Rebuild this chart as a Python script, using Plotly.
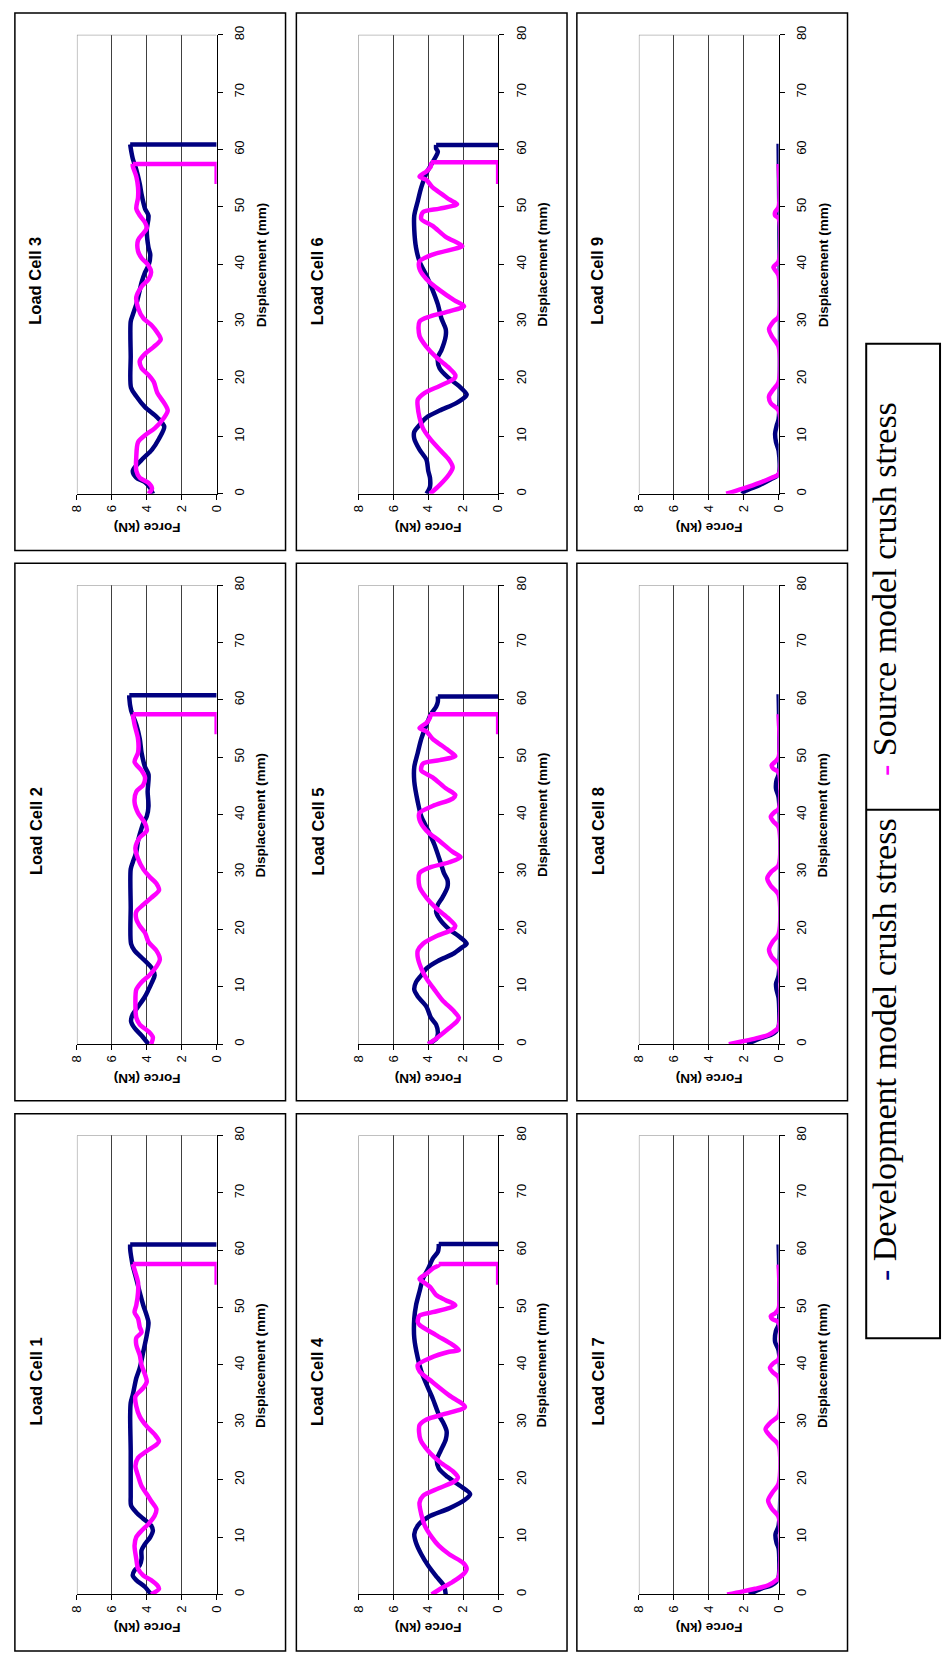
import plotly.graph_objects as go

W, H = 949, 1663

# ---------------- measured curves: displacement (mm) / force (kN) ----------------
LC1_DEV_MM = [0, 1.3, 2.5, 3.3, 4.2, 5.1, 6.2, 7.7, 8.8, 10, 11.1, 12, 13.2, 14.3, 15.5, 17.2, 25, 31, 33.4, 34.8, 37.7, 39.5, 42.3, 45.2, 47.4, 48.6, 50.4, 52.6, 55, 57.3, 59, 60.2, 61, 61]
LC1_DEV_KN = [3.75, 4.1, 4.6, 4.8, 4.7, 4.4, 4.3, 4.3, 4.1, 3.8, 3.65, 3.75, 4.2, 4.6, 4.9, 4.92, 4.92, 4.95, 4.92, 4.8, 4.6, 4.4, 4.2, 4.0, 3.9, 4.0, 4.2, 4.4, 4.6, 4.8, 4.9, 4.95, 4.95, 0]
LC1_SRC_MM = [0, 1, 1.6, 2.5, 3.3, 4.5, 6.2, 8.5, 10, 11.1, 12.3, 13.7, 14.9, 16.3, 17.5, 18.9, 20.7, 22.4, 23.8, 25, 26.1, 26.7, 27.9, 29.3, 31, 32.8, 34.5, 36, 37.1, 38.3, 40, 41.7, 43.5, 44.7, 45.7, 46.6, 48.1, 49.2, 50.4, 52.6, 54.4, 56.1, 57.6, 57.6, 54]
LC1_SRC_KN = [3.75, 3.3, 3.4, 3.75, 4.2, 4.5, 4.6, 4.7, 4.6, 4.3, 3.9, 3.55, 3.45, 3.75, 4.0, 4.3, 4.5, 4.65, 4.5, 4.0, 3.45, 3.3, 3.55, 4.0, 4.4, 4.6, 4.65, 4.2, 4.0, 4.1, 4.3, 4.4, 4.6, 4.6, 4.3, 4.4, 4.5, 4.7, 4.6, 4.5, 4.5, 4.65, 4.8, 0, 0]

LC2_DEV_MM = [0, 1.5, 2.8, 4, 5.2, 6.5, 8.3, 9.5, 10.8, 12, 13.2, 15.1, 16.3, 17.5, 24, 30.5, 31.7, 33.5, 35.4, 36.6, 38.5, 39.7, 41.5, 44, 47, 48.3, 50.8, 53.2, 55.7, 58.2, 60.3, 60.8, 60.8]
LC2_DEV_KN = [3.9, 4.3, 4.7, 4.9, 4.8, 4.5, 4.1, 3.9, 3.7, 3.55, 3.7, 4.3, 4.7, 4.9, 4.92, 4.92, 4.8, 4.6, 4.5, 4.4, 4.2, 4.0, 3.9, 3.95, 3.9, 4.1, 4.3, 4.4, 4.6, 4.9, 5.0, 5.0, 0]
LC2_SRC_MM = [0, 1.2, 2.2, 3.4, 4.6, 7.1, 9.5, 10.8, 12, 13.5, 14.8, 16.3, 17.8, 19.4, 20.6, 21.8, 23.1, 24.3, 25.5, 26.8, 28, 29.2, 30.5, 32.3, 34.2, 36, 37.2, 38.5, 40.3, 42.2, 44, 45.2, 46.5, 47.7, 49.2, 50.8, 53.2, 55.7, 57.5, 57.5, 54]
LC2_SRC_KN = [3.75, 3.65, 3.9, 4.4, 4.6, 4.65, 4.6, 4.3, 3.85, 3.45, 3.25, 3.45, 3.9, 4.1, 4.4, 4.6, 4.6, 4.2, 3.75, 3.3, 3.45, 3.85, 4.2, 4.5, 4.65, 4.4, 4.0, 4.1, 4.5, 4.7, 4.6, 4.2, 4.1, 4.3, 4.7, 4.5, 4.5, 4.7, 4.8, 0, 0]

LC3_DEV_MM = [0, 1, 2, 2.8, 4, 5.9, 7.7, 9.6, 11.7, 13.3, 15.1, 17, 18.5, 24, 30, 31.2, 33, 35.5, 36.8, 38.6, 39.8, 41.7, 42.9, 46, 48.5, 49.7, 52.2, 54, 56.5, 58.4, 59.9, 60.9, 60.9]
LC3_DEV_KN = [3.65, 3.8, 4.1, 4.6, 4.8, 4.3, 3.7, 3.3, 3.0, 3.4, 4.1, 4.6, 4.9, 4.92, 4.92, 4.8, 4.6, 4.4, 4.3, 4.1, 3.9, 3.8, 3.9, 4.0, 3.9, 4.1, 4.3, 4.4, 4.6, 4.8, 4.9, 4.95, 0]
LC3_SRC_MM = [0, 0.9, 1.9, 2.8, 4, 6.5, 9, 10.2, 11.4, 13.3, 14.5, 15.8, 17.6, 19.5, 20.7, 21.9, 23.2, 24.4, 25.6, 26.9, 28.1, 29.3, 30.6, 32.4, 34.3, 36.1, 37.4, 38.6, 39.8, 41.1, 42.3, 44.2, 45.4, 46.3, 47.3, 48.5, 49.7, 51.6, 53.4, 55.3, 57.1, 57.5, 57.5, 54]
LC3_SRC_KN = [3.9, 3.7, 3.9, 4.4, 4.6, 4.6, 4.5, 4.1, 3.55, 3.0, 2.8, 3.0, 3.4, 3.6, 3.9, 4.3, 4.4, 4.1, 3.6, 3.2, 3.4, 3.7, 4.2, 4.5, 4.6, 4.3, 3.9, 3.75, 3.9, 4.3, 4.5, 4.5, 4.2, 4.0, 4.1, 4.4, 4.6, 4.5, 4.5, 4.6, 4.8, 4.8, 0, 0]

LC4_DEV_MM = [0, 1.5, 3, 5, 7, 9, 10.5, 12, 13.5, 15, 16.5, 17.5, 19, 20.5, 22, 23.5, 25, 27, 28.5, 30, 31, 34.2, 36.6, 38.9, 41.2, 44.7, 48.1, 50.4, 52.8, 55.1, 56.8, 58.5, 59.7, 60.5, 61.1, 61.1]
LC4_DEV_KN = [3.0, 3.1, 3.5, 4.0, 4.4, 4.7, 4.8, 4.6, 4.0, 2.8, 1.9, 1.6, 2.2, 2.9, 3.4, 3.5, 3.3, 3.0, 2.95, 3.15, 3.35, 3.75, 4.1, 4.4, 4.6, 4.8, 4.8, 4.7, 4.5, 4.3, 4.0, 3.75, 3.45, 3.4, 3.4, 0]
LC4_SRC_MM = [0, 1, 2.2, 3.5, 4.5, 5.5, 7, 8.5, 10, 12, 14, 16, 17.2, 18.5, 19.7, 20.4, 21.5, 23, 25, 27, 29.5, 30.5, 31.5, 32.7, 34.7, 37, 38.9, 40, 41.2, 42.3, 42.6, 43.5, 45.2, 47, 47.5, 48.6, 49.2, 50.4, 51.3, 52.2, 53.6, 54.5, 55, 55.9, 56.8, 57.4, 57.6, 57.6, 54]
LC4_SRC_KN = [3.8, 3.3, 2.6, 2.0, 1.8, 2.0, 2.8, 3.4, 3.8, 4.2, 4.4, 4.5, 4.3, 3.4, 2.5, 2.3, 2.6, 3.3, 4.0, 4.45, 4.5, 4.1, 3.0, 1.9, 2.8, 3.75, 4.5, 4.6, 3.9, 2.8, 2.25, 2.6, 3.55, 4.5, 4.6, 4.5, 3.75, 2.45, 3.0, 3.55, 3.9, 4.3, 4.5, 4.1, 3.75, 3.4, 3.4, 0, 0]

LC5_DEV_MM = [0, 0.9, 1.8, 3.4, 4.6, 6.5, 8.3, 9.5, 10.8, 12, 13.2, 14.5, 15.7, 16.9, 17.5, 18.8, 20, 21.8, 23.1, 24.3, 25.5, 27.4, 28.6, 29.8, 31.7, 34.8, 37.2, 39.7, 42.2, 45.8, 48.3, 50.8, 53.2, 55.7, 57.5, 58.8, 59.7, 60.6, 60.6]
LC5_DEV_KN = [4.0, 3.55, 3.45, 3.55, 3.85, 4.1, 4.6, 4.8, 4.7, 4.4, 4.1, 3.45, 2.6, 2.05, 1.8, 2.25, 2.8, 3.35, 3.55, 3.45, 3.2, 2.9, 2.9, 3.1, 3.3, 3.65, 4.0, 4.4, 4.6, 4.8, 4.8, 4.6, 4.4, 4.1, 3.85, 3.55, 3.45, 3.45, 0]
LC5_SRC_MM = [0, 1.2, 2.8, 4, 4.6, 5.8, 7.7, 9.5, 11.4, 13.2, 15.1, 16.3, 17.5, 18.8, 20, 20.6, 21.8, 23.7, 25.5, 27.4, 29.8, 30.8, 31.7, 32.6, 33.5, 35.4, 37.2, 39.1, 40.3, 41.5, 42.8, 43.4, 44.6, 46.5, 47.7, 48.9, 49.5, 50.2, 51.1, 52, 53.2, 54.5, 55.1, 56, 56.9, 57.5, 57.5, 54]
LC5_SRC_KN = [4.0, 3.45, 2.8, 2.35, 2.25, 2.55, 3.2, 3.65, 4.1, 4.4, 4.6, 4.6, 4.3, 3.55, 2.6, 2.45, 2.8, 3.55, 4.1, 4.5, 4.5, 3.9, 2.8, 2.15, 2.6, 3.35, 4.1, 4.5, 4.5, 3.75, 2.6, 2.45, 3.0, 3.75, 4.4, 4.3, 3.35, 2.45, 2.8, 3.2, 3.75, 4.1, 4.5, 4.1, 3.9, 3.9, 0, 0]

LC6_DEV_MM = [0, 1.2, 2.8, 4, 5.9, 7.7, 9.6, 10.8, 12, 13.3, 14.5, 15.8, 17, 17.3, 18.8, 20.1, 21.9, 23.8, 25, 27.5, 28.7, 30.6, 33, 35.5, 38, 40.5, 42.9, 46, 48.5, 51, 53.4, 55.9, 57.8, 59.6, 60.2, 60.8, 60.8]
LC6_DEV_KN = [4.1, 3.9, 3.9, 4.0, 4.1, 4.5, 4.8, 4.8, 4.5, 4.1, 3.35, 2.4, 1.85, 1.8, 2.25, 2.8, 3.35, 3.45, 3.25, 3.0, 3.0, 3.25, 3.45, 3.75, 4.1, 4.5, 4.7, 4.8, 4.8, 4.6, 4.4, 4.1, 3.75, 3.45, 3.55, 3.55, 0]
LC6_SRC_MM = [0, 1.5, 3.4, 4.6, 5.9, 7.7, 9.6, 11.4, 13.3, 15.1, 16.4, 17.6, 18.8, 20.1, 20.7, 21.9, 23.8, 25.6, 27.5, 30, 30.9, 31.8, 32.7, 33.7, 35.5, 37.4, 39.2, 40.5, 41.7, 42.9, 43.2, 44.8, 46.7, 47.9, 49.1, 49.7, 50.5, 51.3, 52.2, 53.4, 54.7, 55.3, 56.2, 57.1, 57.8, 57.8, 54]
LC6_SRC_KN = [3.9, 3.35, 2.8, 2.6, 2.8, 3.35, 3.9, 4.3, 4.5, 4.6, 4.6, 4.2, 3.35, 2.5, 2.45, 2.8, 3.55, 4.1, 4.5, 4.5, 3.9, 2.8, 1.95, 2.5, 3.35, 4.1, 4.5, 4.5, 3.75, 2.25, 2.05, 3.0, 3.75, 4.4, 4.3, 3.35, 2.35, 2.8, 3.2, 3.75, 4.1, 4.5, 4.1, 3.85, 3.85, 0, 0]

LC7_DEV_MM = [0, 1, 1.6, 2.2, 3, 8, 9, 10.5, 12, 42.5, 44, 46, 47, 61]
LC7_DEV_KN = [1.7, 1.0, 0.4, 0.13, 0, 0, 0.12, 0.18, 0, 0, 0.2, 0.15, 0, 0]
LC7_SRC_MM = [0, 0.5, 1, 1.6, 2.5, 3, 13.5, 15, 16.4, 17.8, 19.3, 26, 27.5, 28.8, 30, 31.2, 37.8, 38.8, 39.5, 40.3, 41, 47.4, 48, 48.5, 49, 49.8, 57.5]
LC7_SRC_KN = [2.95, 2.1, 1.35, 0.6, 0.13, 0, 0, 0.4, 0.6, 0.35, 0, 0, 0.45, 0.75, 0.45, 0, 0, 0.35, 0.5, 0.3, 0, 0, 0.35, 0.45, 0.2, 0, 0]

LC8_DEV_MM = [0, 1, 1.6, 2.2, 3, 8, 9.5, 10.5, 12, 43, 44.5, 46, 47, 61]
LC8_DEV_KN = [1.8, 1.05, 0.45, 0.15, 0, 0, 0.12, 0.15, 0, 0, 0.15, 0.12, 0, 0]
LC8_SRC_MM = [0, 0.5, 1, 1.6, 2.5, 3, 13.8, 15.2, 16.5, 17.8, 19.2, 26, 27.6, 28.9, 30.1, 31.2, 37.8, 38.8, 39.6, 40.4, 41, 47.4, 48, 48.6, 49.2, 50, 57.5]
LC8_SRC_KN = [2.85, 2.05, 1.3, 0.6, 0.13, 0, 0, 0.4, 0.55, 0.35, 0, 0, 0.45, 0.65, 0.4, 0, 0, 0.3, 0.45, 0.25, 0, 0, 0.3, 0.4, 0.2, 0, 0]

LC9_DEV_MM = [0, 0.5, 1.5, 2.5, 3.4, 7.5, 9, 10.5, 12, 13, 61]
LC9_DEV_KN = [2.1, 1.9, 1.1, 0.45, 0, 0, 0.15, 0.2, 0.1, 0, 0]
LC9_SRC_MM = [0, 0.9, 1.9, 2.8, 3.4, 14.5, 15.8, 17, 18.2, 19.5, 25.6, 27.5, 28.7, 30, 30.9, 38, 38.6, 39.5, 40.5, 48, 48.5, 49.1, 50, 57.5]
LC9_SRC_KN = [3.0, 2.05, 1.1, 0.4, 0, 0, 0.45, 0.55, 0.3, 0, 0, 0.4, 0.55, 0.3, 0, 0, 0.1, 0.3, 0, 0, 0.2, 0.2, 0, 0]

CELLS = [
    (LC1_DEV_MM, LC1_DEV_KN, LC1_SRC_MM, LC1_SRC_KN),
    (LC2_DEV_MM, LC2_DEV_KN, LC2_SRC_MM, LC2_SRC_KN),
    (LC3_DEV_MM, LC3_DEV_KN, LC3_SRC_MM, LC3_SRC_KN),
    (LC4_DEV_MM, LC4_DEV_KN, LC4_SRC_MM, LC4_SRC_KN),
    (LC5_DEV_MM, LC5_DEV_KN, LC5_SRC_MM, LC5_SRC_KN),
    (LC6_DEV_MM, LC6_DEV_KN, LC6_SRC_MM, LC6_SRC_KN),
    (LC7_DEV_MM, LC7_DEV_KN, LC7_SRC_MM, LC7_SRC_KN),
    (LC8_DEV_MM, LC8_DEV_KN, LC8_SRC_MM, LC8_SRC_KN),
    (LC9_DEV_MM, LC9_DEV_KN, LC9_SRC_MM, LC9_SRC_KN),
]

FORCE_TICKS = [0, 2, 4, 6, 8]
DISP_TICKS = [0, 10, 20, 30, 40, 50, 60, 70, 80]
LEGEND_LABELS = ["Development model crush stress", "Source model crush stress"]

# ---------------- styling / page geometry (pixels) ----------------
DEV_COLOR = "#000080"
SRC_COLOR = "#FF00FF"
SANS = "Liberation Sans, Arial, sans-serif"
SERIF = "Liberation Serif, Times New Roman, serif"
LINE_W = 4.5

COL_BOX_L = [7, 293, 578]
COL_PLOT_L = [70, 356, 641]
ROW_BOX_T = [4, 558, 1112]
BOX_W, BOX_H = 275, 541
PLOT_W = 142
PLOT_TOP_OFF, PLOT_BOT_OFF = 22, 484


def px(x):
    return x / W


def py(y):
    return 1 - y / H


def split_unload(mm):
    """Index where loading ends (displacement stops increasing), or None."""
    for k in range(len(mm) - 1):
        if mm[k + 1] <= mm[k]:
            return k
    return None


def add_curve(fig, mm, kn, color, xa, ya):
    # smooth loading branch, straight unloading drop
    k = split_unload(mm)
    body = len(mm) if k is None else k + 1
    fig.add_trace(go.Scatter(x=kn[:body], y=mm[:body], xaxis=xa, yaxis=ya, mode="lines",
                             line=dict(color=color, width=LINE_W, shape="spline", smoothing=0.8),
                             hoverinfo="skip"))
    if k is not None:
        fig.add_trace(go.Scatter(x=kn[k:], y=mm[k:], xaxis=xa, yaxis=ya, mode="lines",
                                 line=dict(color=color, width=LINE_W), hoverinfo="skip"))


fig = go.Figure()
shapes = []
annotations = []

for i, (dev_x, dev_y, src_x, src_y) in enumerate(CELLS):
    n = i + 1
    col = i // 3
    row = 2 - i % 3
    sfx = "" if n == 1 else str(n)
    xa, ya = "x" + sfx, "y" + sfx

    bl, bt = COL_BOX_L[col], ROW_BOX_T[row]
    pl = COL_PLOT_L[col]
    pt, pb = bt + PLOT_TOP_OFF, bt + PLOT_BOT_OFF

    # force runs across, displacement runs upward
    add_curve(fig, dev_x, dev_y, DEV_COLOR, xa, ya)
    add_curve(fig, src_x, src_y, SRC_COLOR, xa, ya)

    fig.layout["xaxis" + sfx] = dict(
        domain=[px(pl), px(pl + PLOT_W)], range=[8, 0], anchor=ya,
        tickvals=FORCE_TICKS, tickangle=-90, ticks="outside", ticklen=5,
        tickcolor="black", showline=True, linecolor="black", linewidth=1,
        showgrid=True, gridcolor="#404040", gridwidth=1, zeroline=False,
        tickfont=dict(family=SANS, size=13, color="black"), fixedrange=True,
    )
    fig.layout["yaxis" + sfx] = dict(
        domain=[py(pb), py(pt)], range=[0, 80], anchor=xa, side="right",
        tickvals=DISP_TICKS, tickangle=-90, ticks="outside", ticklen=5,
        tickcolor="black", showline=True, linecolor="black", linewidth=1,
        showgrid=False, zeroline=False, ticklabelstandoff=6,
        tickfont=dict(family=SANS, size=13, color="black"), fixedrange=True,
    )

    # grey frame on the open sides of the plot area
    shapes.append(dict(type="path", xref=xa, yref=ya, path="M 8 0 L 8 80 L 0 80",
                       line=dict(color="#808080", width=1), layer="above"))
    # chart box
    shapes.append(dict(type="rect", xref="paper", yref="paper",
                       x0=px(bl), x1=px(bl + BOX_W), y0=py(bt + BOX_H), y1=py(bt),
                       line=dict(color="black", width=1.5)))

    annotations.append(dict(text=f"<b>Load Cell {n}</b>", x=px(bl + 21), y=py(bt + 270),
                            xref="paper", yref="paper", showarrow=False, textangle=-90,
                            xanchor="center", yanchor="middle",
                            font=dict(family=SANS, size=16.5, color="black")))
    annotations.append(dict(text="<b>Displacement (mm)</b>", x=px(pl + PLOT_W + 45),
                            y=py(bt + 253), xref="paper", yref="paper", showarrow=False,
                            textangle=-90, xanchor="center", yanchor="middle",
                            font=dict(family=SANS, size=13.5, color="black")))
    annotations.append(dict(text="<b>Force (kN)</b>", x=px(pl + PLOT_W / 2), y=py(bt + 518),
                            xref="paper", yref="paper", showarrow=False, textangle=180,
                            xanchor="center", yanchor="middle",
                            font=dict(family=SANS, size=13.5, color="black")))

# legend table
LEG_L, LEG_R, LEG_T, LEG_MID, LEG_B = 872, 947, 337, 806, 1338
shapes.append(dict(type="rect", xref="paper", yref="paper", x0=px(LEG_L), x1=px(LEG_R),
                   y0=py(LEG_B), y1=py(LEG_T), line=dict(color="black", width=2)))
shapes.append(dict(type="line", xref="paper", yref="paper", x0=px(LEG_L), x1=px(LEG_R),
                   y0=py(LEG_MID), y1=py(LEG_MID), line=dict(color="black", width=2)))

for label, color, yc in [(LEGEND_LABELS[0], DEV_COLOR, 1047),
                         (LEGEND_LABELS[1], SRC_COLOR, 584)]:
    annotations.append(dict(
        text=f"<span style='color:{color}'>-</span> {label}",
        x=px(890), y=py(yc), xref="paper", yref="paper", showarrow=False,
        textangle=-90, xanchor="center", yanchor="middle",
        font=dict(family=SERIF, size=34, color="black")))

fig.update_layout(
    width=W, height=H, autosize=False,
    margin=dict(l=0, r=0, t=0, b=0),
    paper_bgcolor="white", plot_bgcolor="white",
    showlegend=False, shapes=shapes, annotations=annotations,
)

fig.write_html("out.html", config={"displayModeBar": False})
